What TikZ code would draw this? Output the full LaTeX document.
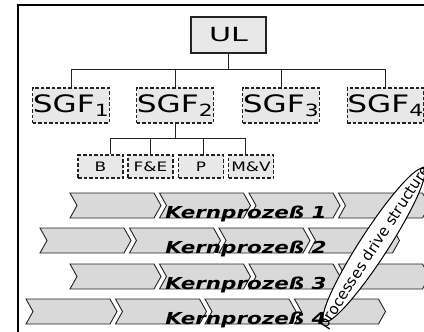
\documentclass[tikz,border=0pt]{standalone}
\usepackage{fontspec}
\setmainfont{DejaVu Sans}[FakeStretch=1.3,
  BoldFont={DejaVu Sans Bold},
  ItalicFont={DejaVu Sans Oblique},
  BoldItalicFont={DejaVu Sans Bold Oblique}]
\newfontfamily\ulfont{DejaVu Sans}[FakeStretch=1.55]
\newfontfamily\plainfont{DejaVu Sans}
\usepackage{tikz}
\usetikzlibrary{shapes.geometric}
\definecolor{boxfill}{RGB}{232, 232, 232}
\definecolor{chevfill}{RGB}{217, 217, 217}
\definecolor{edgegray}{RGB}{35, 35, 35}

\begin{document}
\begin{tikzpicture}[x=1pt, y=-1pt,
    headbox/.style={draw=edgegray, fill=boxfill, line width=1.1pt, inner sep=0pt,
      minimum width=75pt, minimum height=36pt, font=\ulfont\fontsize{19.5}{19.5}\selectfont},
    unitbox/.style={draw=edgegray, fill=boxfill, line width=1.1pt, dash pattern=on 3.5pt off 2pt,
      inner sep=0pt, minimum width=75pt, minimum height=35pt, font=\fontsize{24}{24}\selectfont},
    subbox/.style={unitbox, minimum width=45pt, minimum height=23pt, font=\fontsize{13}{13}\selectfont},
    tree/.style={draw=edgegray, line width=1pt},
    chevron/.style={draw=edgegray, fill=chevfill, line width=0.9pt, line join=miter},
    coreproc/.style={anchor=base, font=\fontsize{16.5}{16.5}\selectfont\bfseries\itshape},
    chev/.pic={\path[chevron] (0,0) -- (84,0) -- (91,12.5) -- (84,25) -- (0,25) -- (7,12.5) -- cycle;}
  ]
    \useasboundingbox (0,0) rectangle (424,332);
    \clip (0,0) rectangle (424,332);

    % Frame
    \draw[line width=1.3pt] (18,5) rectangle (450,360);

    % Management and business units
    \node[headbox] (ul) at (228.5,35) {UL};
    \node[unitbox] (sgf1) at (71,105.5) {SGF\textsubscript{1}};
    \node[unitbox] (sgf2) at (175,105.5) {SGF\textsubscript{2}};
    \node[unitbox] (sgf3) at (281,105.5) {SGF\textsubscript{3}};
    \node[unitbox] (sgf4) at (385.5,105.5) {SGF\textsubscript{4}};
    \foreach \u in {sgf1,sgf2,sgf3,sgf4}
      \draw[tree] (ul.south) |- ([yshift=18pt]\u.north) -- (\u.north);

    % Functions of SGF 2
    \node[subbox] (b) at (100.5,166.5) {B};
    \node[subbox] (fe) at (150.5,166.5) {F\&E};
    \node[subbox] (p) at (201,166.5) {P};
    \node[subbox] (mv) at (251,166.5) {M\&V};
    \foreach \f/\dx in {b/9.5,fe/0,p/2,mv/-6}
      \draw[tree] (sgf2.south) |- ([xshift=\dx pt,yshift=16pt]\f.north) -- ([xshift=\dx pt]\f.north);

    % Core processes
    \foreach \row/\y/\x in {1/193/70, 2/228/40, 3/264/70, 4/299/26} {
      \foreach \k in {0,...,3}
        \pic at (\x+89.5*\k,\y) {chev};
      \node[coreproc] (kp\row) at (246,\y+25) {Kernprozeß \row};
    }

    % Slogan
    \node[ellipse, draw=black, fill=white, line width=1pt, inner sep=0pt,
      minimum width=182pt, minimum height=28pt, rotate=57] (slogan) at (374,245) {};
    \node[rotate=57, font=\plainfont\fontsize{15}{15}\selectfont] (slogantext)
      at ([xshift=1pt,yshift=-2pt]slogan.center) {processes drive structure};
\end{tikzpicture}
\end{document}
